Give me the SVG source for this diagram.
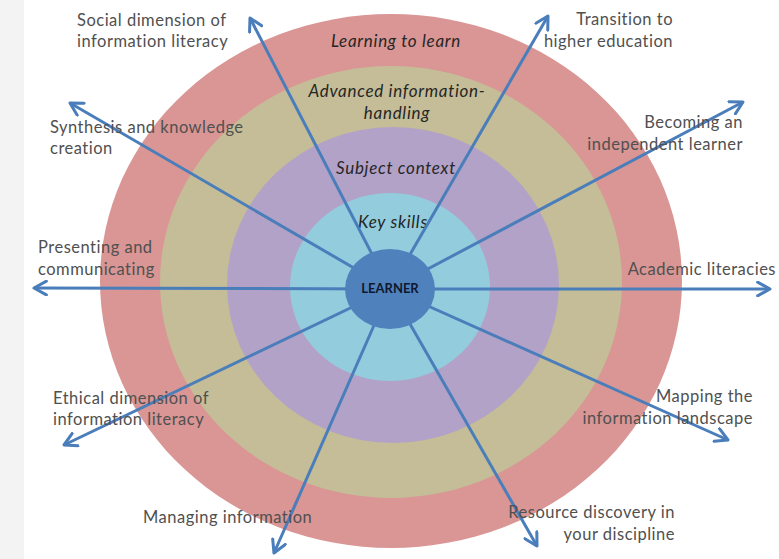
<svg xmlns="http://www.w3.org/2000/svg" width="779" height="559" viewBox="0 0 779 559">
<style>
.lbl{font-family:Lato,"Liberation Sans",sans-serif;font-size:16.5px;letter-spacing:0.5px;fill:#505050}
.ring{font-family:Lato,"Liberation Sans",sans-serif;font-size:17px;letter-spacing:0.7px;font-style:italic;fill:#262626;text-anchor:middle}
.end{text-anchor:end}
.arr{stroke:#4A7EBB;stroke-width:3;fill:none;marker-end:url(#ah)}
</style>
<defs>
<marker id="ah" viewBox="0 0 12 12" refX="10" refY="6" markerWidth="5.5" markerHeight="5.5" orient="auto" markerUnits="strokeWidth">
<path d="M1,1 L10,6 L1,11" fill="none" stroke="#4A7EBB" stroke-width="2.2" stroke-linecap="round" stroke-linejoin="round"/>
</marker>
</defs>
<rect width="779" height="559" fill="#ffffff"/>
<rect width="24" height="559" fill="#f3f3f3"/>
<g id="ring-learning"><ellipse cx="391" cy="281" rx="291" ry="267" fill="#D99694"/><text class="ring" x="396" y="47">Learning to learn</text></g>
<g id="ring-advanced"><ellipse cx="391" cy="282" rx="231" ry="216" fill="#C4BD97"/><text class="ring" x="397" y="97">Advanced information-</text><text class="ring" x="397" y="119">handling</text></g>
<g id="ring-subject"><ellipse cx="393" cy="285" rx="166" ry="158" fill="#B3A2C7"/><text class="ring" x="396" y="174">Subject context</text></g>
<g id="ring-key"><ellipse cx="390" cy="287" rx="100" ry="94" fill="#93CDDD"/><text class="ring" x="393" y="228">Key skills</text></g>
<g id="connectors">
<line class="arr" x1="390" y1="289" x2="250" y2="18"/>
<line class="arr" x1="390" y1="289" x2="70" y2="103"/>
<line class="arr" x1="390" y1="289" x2="34" y2="288"/>
<line class="arr" x1="390" y1="289" x2="64" y2="445"/>
<line class="arr" x1="390" y1="289" x2="274" y2="553"/>
<line class="arr" x1="390" y1="289" x2="537" y2="546"/>
<line class="arr" x1="390" y1="289" x2="728" y2="440"/>
<line class="arr" x1="390" y1="289" x2="770" y2="289"/>
<line class="arr" x1="390" y1="289" x2="743" y2="102"/>
<line class="arr" x1="390" y1="289" x2="548" y2="16"/>
</g>
<g id="learner"><ellipse cx="390" cy="289" rx="45" ry="40" fill="#4F81BD"/><text x="390" y="293" text-anchor="middle" style="font-family:Lato,'Liberation Sans',sans-serif;font-size:13px;font-weight:bold;fill:#101830">LEARNER</text></g>
<g id="social"><text class="lbl" x="77" y="26">Social dimension of</text><text class="lbl" x="77" y="47">information literacy</text></g>
<g id="synthesis"><text class="lbl" x="50" y="133">Synthesis and knowledge</text><text class="lbl" x="50" y="154">creation</text></g>
<g id="presenting"><text class="lbl" x="38" y="253">Presenting and</text><text class="lbl" x="38" y="275">communicating</text></g>
<g id="ethical"><text class="lbl" x="53" y="404">Ethical dimension of</text><text class="lbl" x="53" y="425">information literacy</text></g>
<g id="managing"><text class="lbl" x="143" y="523">Managing information</text></g>
<g id="resource"><text class="lbl end" x="675" y="518">Resource discovery in</text><text class="lbl end" x="675" y="540">your discipline</text></g>
<g id="mapping"><text class="lbl end" x="753" y="402">Mapping the</text><text class="lbl end" x="753" y="424">information landscape</text></g>
<g id="academic"><text class="lbl end" x="776" y="275">Academic literacies</text></g>
<g id="becoming"><text class="lbl end" x="743" y="128">Becoming an</text><text class="lbl end" x="743" y="150">independent learner</text></g>
<g id="transition"><text class="lbl end" x="673" y="25">Transition to</text><text class="lbl end" x="673" y="47">higher education</text></g>
</svg>
